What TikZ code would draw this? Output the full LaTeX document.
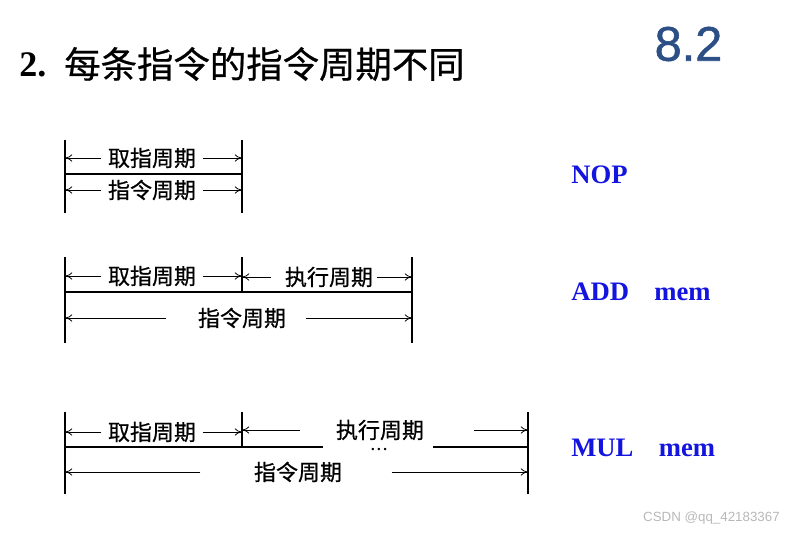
\documentclass[tikz,border=0pt]{standalone}
\usepackage{fontspec}
\setmainfont{Liberation Serif}
\newfontfamily\cjk[FakeBold=0.6]{Noto Sans CJK SC}
\newfontfamily\lsans{Liberation Sans}
\newfontfamily\lsansheavy[FakeBold=1.2]{Liberation Sans}
\usetikzlibrary{arrows.meta}
\definecolor{secblue}{HTML}{2C4F86}
\definecolor{insblue}{HTML}{1414E0}
\begin{document}
\begin{tikzpicture}[x=0.75pt,y=-0.75pt,
  bar/.style={line width=2.2pt},
  dimarrow/.style={-{To[length=5.5pt,width=5.5pt]},line width=0.6pt},
  lbl/.style={font=\cjk\fontsize{16.5}{16.5}\selectfont,inner sep=0pt},
  ins/.style={font=\bfseries\fontsize{20}{20}\selectfont,text=insblue,anchor=west,inner sep=0pt}]
\useasboundingbox (0,0) rectangle (801,534);
% title
\node[anchor=west,inner sep=0pt,font=\bfseries\fontsize{27}{27}\selectfont] (num) at (19,65) {2.};
\node[anchor=west,inner sep=0pt,font=\cjk\fontsize{27.3}{27.3}\selectfont] (title) at (64,64) {每条指令的指令周期不同};
\node[inner sep=0pt,font=\lsansheavy\fontsize{36.5}{36.5}\selectfont,text=secblue] (sec) at (688.5,44) {8.2};
% ---------- diagram 1: NOP
\coordinate (A1t) at (65,140); \coordinate (A1b) at (65,213);
\coordinate (B1t) at (242,140); \coordinate (B1b) at (242,213);
\coordinate (A1m) at (65,174); \coordinate (B1m) at (242,174);
\draw[bar] (A1t) -- (A1b);
\draw[bar] (B1t) -- (B1b);
\draw[bar] (A1m) -- (B1m);
\node[lbl] (f1) at (152,158) {取指周期};
\node[lbl] (c1) at (152,190) {指令周期};
\draw[dimarrow] ([xshift=-5]f1.west) -- (f1.west -| A1t);
\draw[dimarrow] ([xshift=5]f1.east) -- (f1.east -| B1t);
\draw[dimarrow] ([xshift=-5]c1.west) -- (c1.west -| A1t);
\draw[dimarrow] ([xshift=5]c1.east) -- (c1.east -| B1t);
\node[ins] (nop) at (571,175) {NOP};
% ---------- diagram 2: ADD mem
\coordinate (A2t) at (65,257); \coordinate (A2b) at (65,343);
\coordinate (M2t) at (242,257); \coordinate (M2b) at (242,292);
\coordinate (B2t) at (412,257); \coordinate (B2b) at (412,343);
\coordinate (A2m) at (65,292); \coordinate (B2m) at (412,292);
\draw[bar] (A2t) -- (A2b);
\draw[bar] (M2t) -- (M2b);
\draw[bar] (B2t) -- (B2b);
\draw[bar] (A2m) -- (B2m);
\node[lbl] (f2) at (152,276) {取指周期};
\node[lbl] (e2) at (329,277) {执行周期};
\node[lbl] (c2) at (242,318) {指令周期};
\draw[dimarrow] ([xshift=-5]f2.west) -- (f2.west -| A2t);
\draw[dimarrow] ([xshift=5]f2.east) -- (f2.east -| M2t);
\draw[dimarrow] ([xshift=-10]e2.west) -- (e2.west -| M2t);
\draw[dimarrow] ([xshift=3]e2.east) -- (e2.east -| B2t);
\draw[dimarrow] ([xshift=-24]c2.west) -- (c2.west -| A2t);
\draw[dimarrow] ([xshift=15]c2.east) -- (c2.east -| B2t);
\node[ins] (add) at (571,292) {ADD\hspace{0.95em}mem};
% ---------- diagram 3: MUL mem
\coordinate (A3t) at (65,412); \coordinate (A3b) at (65,494);
\coordinate (M3t) at (242,412); \coordinate (M3b) at (242,447);
\coordinate (B3t) at (528,412); \coordinate (B3b) at (528,494);
\coordinate (A3m) at (65,447); \coordinate (G3l) at (323,447);
\coordinate (G3r) at (433,447); \coordinate (B3m) at (528,447);
\draw[bar] (A3t) -- (A3b);
\draw[bar] (M3t) -- (M3b);
\draw[bar] (B3t) -- (B3b);
\draw[bar] (A3m) -- (G3l);
\draw[bar] (G3r) -- (B3m);
\node[lbl] (f3) at (152,432) {取指周期};
\node[lbl] (e3) at (380,430) {执行周期};
\node[inner sep=0pt,font=\bfseries\fontsize{11}{11}\selectfont] (dots) at (379,450) {.\,.\,.};
\node[lbl] (c3) at (298,472) {指令周期};
\draw[dimarrow] ([xshift=-5]f3.west) -- (f3.west -| A3t);
\draw[dimarrow] ([xshift=5]f3.east) -- (f3.east -| M3t);
\draw[dimarrow] ([xshift=-27]e3.west) -- (e3.west -| M3t);
\draw[dimarrow] ([xshift=37]e3.east) -- (e3.east -| B3t);
\draw[dimarrow] ([xshift=-40]c3.west) -- (c3.west -| A3t);
\draw[dimarrow] ([xshift=37]c3.east) -- (c3.east -| B3t);
\node[ins] (mul) at (571,448) {MUL\hspace{0.95em}mem};
% watermark
\node[anchor=east,inner sep=0pt,text=black!28,font=\lsans\fontsize{10}{10}\selectfont] (wm) at (780,518) {CSDN @qq\_42183367};
\end{tikzpicture}
\end{document}
